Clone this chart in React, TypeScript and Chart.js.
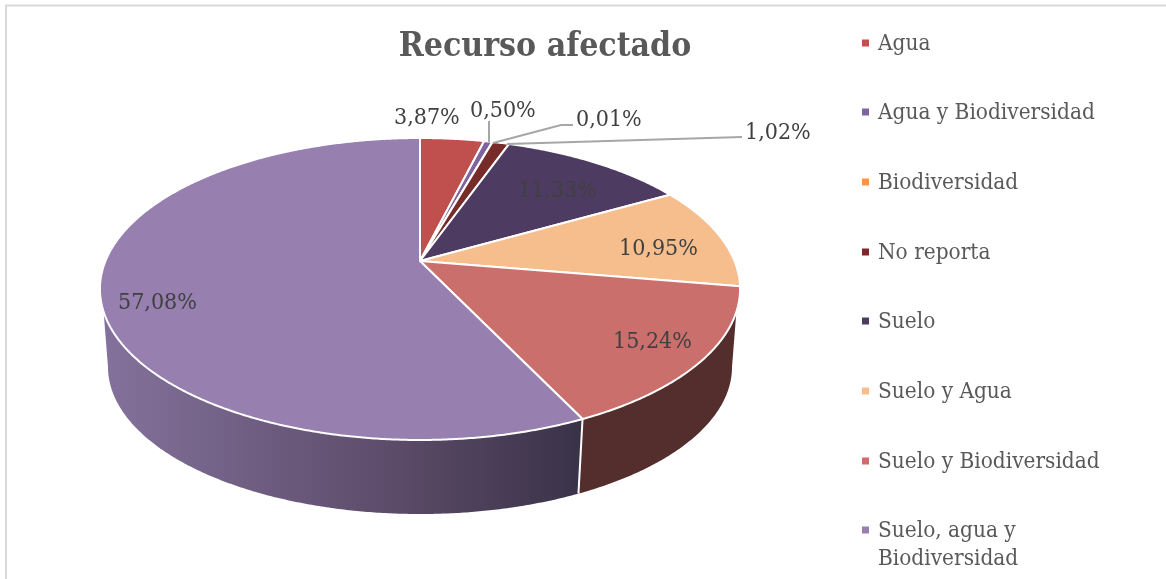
import React, { useEffect, useRef } from "react";
import { Chart, registerables } from "chart.js";

Chart.register(...registerables);

const chartTitle = "Recurso afectado";
const categories = [
  "Agua",
  "Agua y Biodiversidad",
  "Biodiversidad",
  "No reporta",
  "Suelo",
  "Suelo y Agua",
  "Suelo y Biodiversidad",
  "Suelo, agua y Biodiversidad",
];
const values = [3.87, 0.5, 0.01, 1.02, 11.33, 10.95, 15.24, 57.08];
const sliceColors = ["#c0504d", "#8064a2", "#f79646", "#772c2a", "#4d3b62", "#f6bd8d", "#cb6f6d", "#977fb0"];
const legendLines = [
  ["Agua"],
  ["Agua y Biodiversidad"],
  ["Biodiversidad"],
  ["No reporta"],
  ["Suelo"],
  ["Suelo y Agua"],
  ["Suelo y Biodiversidad"],
  ["Suelo, agua y", "Biodiversidad"],
];

const W = 1166;
const H = 579;
const SERIF = '"DejaVu Serif Condensed", "DejaVu Serif", serif';
const TXT = "#595959";
const LABEL = "#404040";

// perspective disc geometry
const CX = 420;
const K = 0.1854;
const TOP = { apex: 261, a: 145.8, b: 314.5 };
const BOTTOM = { apex: 339.7, a: 142, b: 306.6 };
const deg = Math.PI / 180;
const UP_L = 19.1 * deg;
const UP_R = 160.9 * deg;
const LOW_L = 10.7 * deg;
const LOW_R = 169.3 * deg;

const project = (p: { apex: number; a: number; b: number }, t: number): [number, number] => {
  const u = Math.cos(t);
  const v = Math.sin(t);
  const w = 1 - K * v;
  return [CX + (p.b * u) / w, p.apex + (p.a * v) / w];
};

const samples = (s: number, e: number) => {
  const n = Math.max(2, Math.ceil(Math.abs(e - s) / (0.4 * deg)));
  const out: number[] = [];
  for (let i = 0; i <= n; i++) out.push(s + ((e - s) * i) / n);
  return out;
};

// placement of the value labels: left x / mid y per slice
const labelX = [394, 470, 576, 745, 518, 619, 613, 118];
const labelY = [118, 111, 120, 133, 191, 249, 342, 303];
// leader lines of the small slices
const leaders: [number, number][][] = [
  [[489, 121], [489, 142]],
  [[573, 125], [561, 125], [493, 143]],
  [[742, 137], [507, 144]],
];
const legendY = [43, 112, 182, 252, 321, 391, 461, 530];

const piePlugin = {
  id: "perspectivePie",
  beforeDatasetDraw(chart: any, args: any) {
    const ctx: CanvasRenderingContext2D = chart.ctx;
    const arcs = args.meta.data;
    ctx.save();
    // side walls
    arcs.forEach((el: any, i: number) => {
      const s = el.startAngle;
      const e = el.endAngle;
      const us = Math.max(s, UP_L);
      const ue = Math.min(e, UP_R);
      if (ue <= us) return;
      const ls = s <= UP_L ? LOW_L : s;
      const le = e >= UP_R ? LOW_R : e;
      ctx.beginPath();
      samples(us, ue).forEach((t, j) => {
        const [x, y] = project(TOP, t);
        if (j === 0) ctx.moveTo(x, y);
        else ctx.lineTo(x, y);
      });
      samples(le, ls).forEach((t) => {
        const [x, y] = project(BOTTOM, t);
        ctx.lineTo(x, y);
      });
      ctx.closePath();
      if (i === 7) {
        const g = ctx.createLinearGradient(100, 0, 580, 0);
        g.addColorStop(0, "#84729c");
        g.addColorStop(0.625, "#5b4a68");
        g.addColorStop(1, "#3a3348");
        ctx.fillStyle = g;
      } else {
        ctx.fillStyle = "#532e2c";
      }
      ctx.fill();
    });
    // white seams on the wall
    arcs.forEach((el: any) => {
      const t = el.startAngle;
      if (t > UP_L && t < UP_R) {
        const [x0, y0] = project(TOP, t);
        const [x1, y1] = project(BOTTOM, t);
        ctx.beginPath();
        ctx.moveTo(x0, y0);
        ctx.lineTo(x1, y1);
        ctx.strokeStyle = "#ffffff";
        ctx.lineWidth = 2;
        ctx.stroke();
      }
    });
    // top faces
    arcs.forEach((el: any, i: number) => {
      ctx.beginPath();
      ctx.moveTo(CX, TOP.apex);
      samples(el.startAngle, el.endAngle).forEach((t) => {
        const [x, y] = project(TOP, t);
        ctx.lineTo(x, y);
      });
      ctx.closePath();
      ctx.fillStyle = sliceColors[i];
      ctx.fill();
      ctx.strokeStyle = "#ffffff";
      ctx.lineWidth = 2;
      ctx.lineJoin = "round";
      ctx.stroke();
    });
    ctx.restore();
    return false;
  },
  afterDraw(chart: any) {
    const ctx: CanvasRenderingContext2D = chart.ctx;
    ctx.save();
    // frame
    ctx.strokeStyle = "#d9d9d9";
    ctx.lineWidth = 2;
    ctx.beginPath();
    ctx.moveTo(6, H);
    ctx.lineTo(6, 5.5);
    ctx.lineTo(W, 5.5);
    ctx.stroke();
    // title
    ctx.fillStyle = TXT;
    ctx.font = `bold 33.5px ${SERIF}`;
    ctx.textAlign = "center";
    ctx.textBaseline = "middle";
    ctx.fillText(chartTitle, 545, 47);
    // leaders
    ctx.strokeStyle = "#a6a6a6";
    ctx.lineWidth = 2;
    leaders.forEach((pts) => {
      ctx.beginPath();
      pts.forEach(([x, y], i) => (i === 0 ? ctx.moveTo(x, y) : ctx.lineTo(x, y)));
      ctx.stroke();
    });
    // value labels
    ctx.textAlign = "left";
    ctx.fillStyle = LABEL;
    ctx.font = `23px ${SERIF}`;
    values.forEach((v, i) => {
      if (i >= labelX.length) return;
      const text = v.toFixed(2).replace(".", ",") + "%";
      ctx.fillText(text, labelX[i], labelY[i]);
    });
    // legend
    categories.forEach((_, i) => {
      ctx.fillStyle = sliceColors[i];
      ctx.fillRect(862, legendY[i] - 3.5, 7, 7);
      ctx.fillStyle = TXT;
      ctx.font = `22.4px ${SERIF}`;
      legendLines[i].forEach((line, j) => {
        ctx.fillText(line, 878, legendY[i] + 1 + j * 28);
      });
    });
    ctx.restore();
  },
};

export default function App() {
  const ref = useRef<HTMLCanvasElement>(null);
  useEffect(() => {
    if (!ref.current) return;
    const chart = new Chart(ref.current, {
      type: "pie",
      data: {
        labels: categories,
        datasets: [{ data: values, backgroundColor: sliceColors, borderColor: "#ffffff", borderWidth: 2 }],
      },
      options: {
        responsive: false,
        animation: false,
        rotation: 0,
        plugins: { legend: { display: false }, title: { display: false }, tooltip: { enabled: false } },
      },
      plugins: [piePlugin as any],
    });
    return () => chart.destroy();
  }, []);
  return (
    <div style={{ position: "absolute", left: 0, top: 0, width: W, height: H, overflow: "hidden", background: "#fff" }}>
      <canvas ref={ref} width={W} height={H} style={{ display: "block" }} />
    </div>
  );
}
